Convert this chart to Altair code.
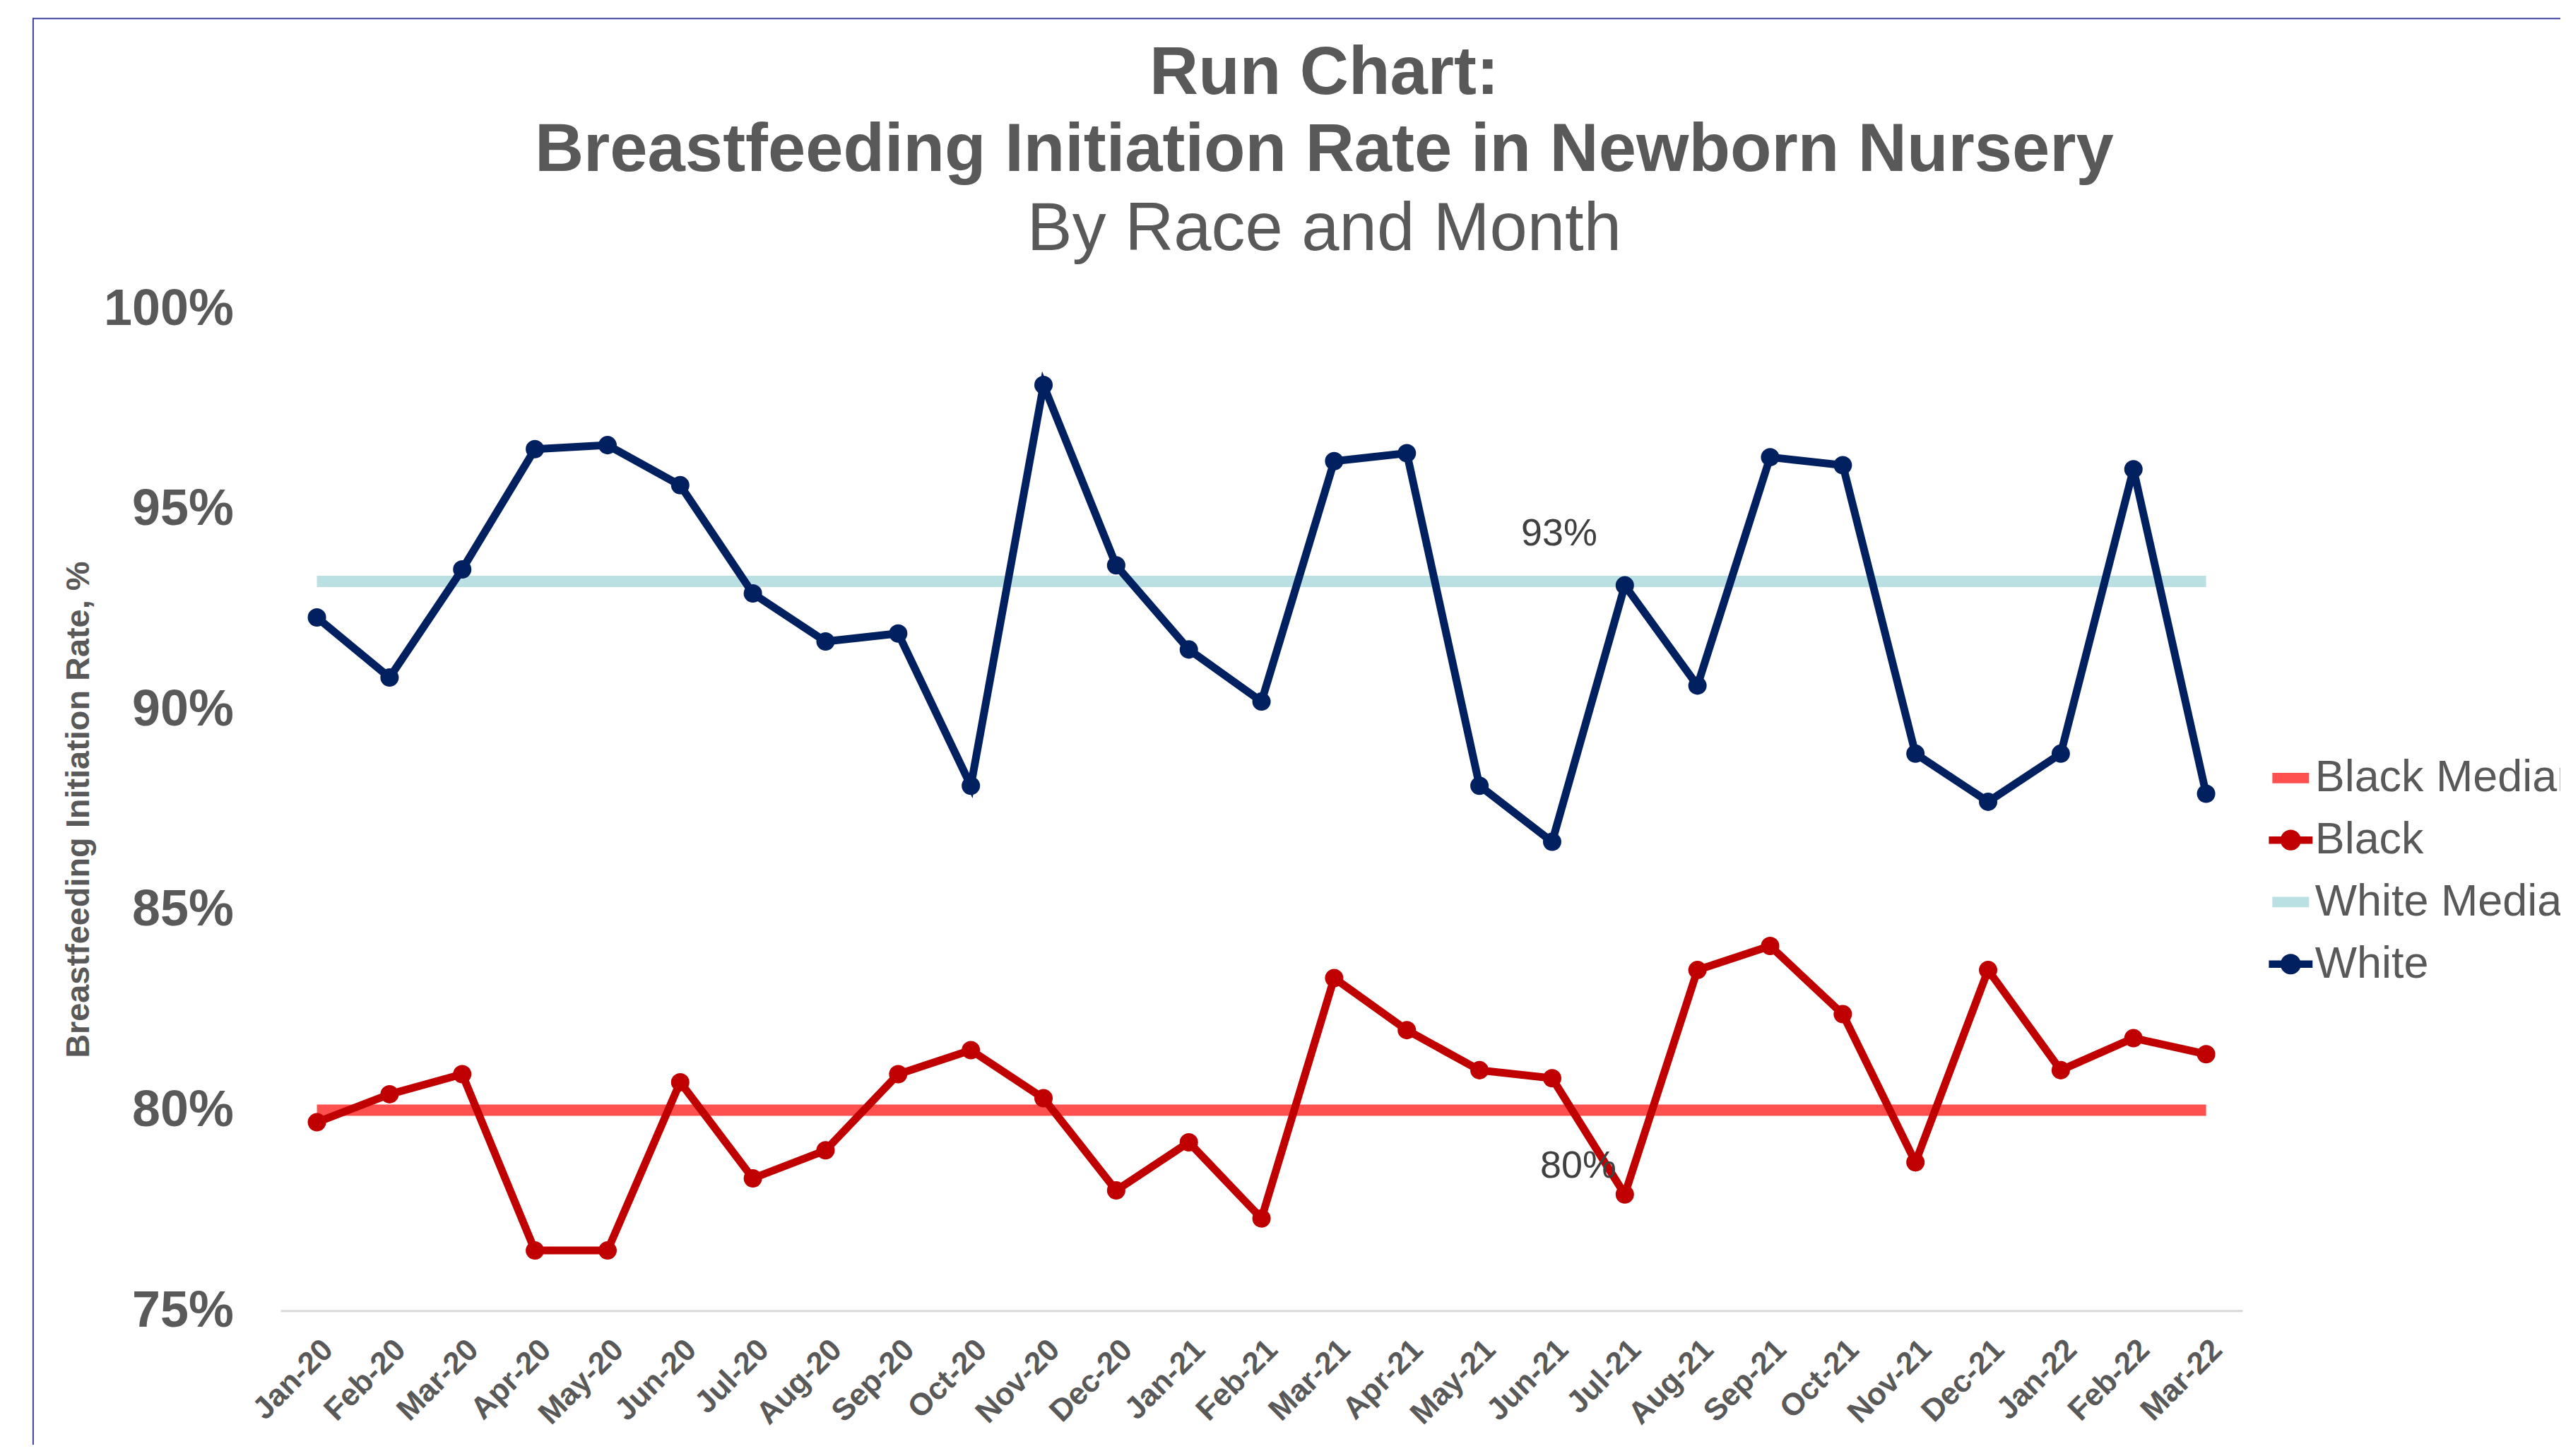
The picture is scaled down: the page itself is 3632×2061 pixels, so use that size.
import altair as alt
import pandas as pd

months = ["Jan-20", "Feb-20", "Mar-20", "Apr-20", "May-20", "Jun-20", "Jul-20", "Aug-20", "Sep-20",
          "Oct-20", "Nov-20", "Dec-20", "Jan-21", "Feb-21", "Mar-21", "Apr-21", "May-21", "Jun-21",
          "Jul-21", "Aug-21", "Sep-21", "Oct-21", "Nov-21", "Dec-21", "Jan-22", "Feb-22", "Mar-22"]

white = [92.3, 90.8, 93.5, 96.5, 96.6, 95.6, 92.9, 91.7, 91.9, 88.1, 98.1, 93.6, 91.5, 90.2,
         96.2, 96.4, 88.1, 86.7, 93.1, 90.6, 96.3, 96.1, 88.9, 87.7, 88.9, 96.0, 87.9]
black = [79.7, 80.4, 80.9, 76.5, 76.5, 80.7, 78.3, 79.0, 80.9, 81.5, 80.3, 78.0, 79.2, 77.3,
         83.3, 82.0, 81.0, 80.8, 77.9, 83.5, 84.1, 82.4, 78.7, 83.5, 81.0, 81.8, 81.4]
white_median = [93.2] * 27
black_median = [80.0] * 27

series_order = ["Black Median", "Black", "White Median", "White"]
series_colors = ["#FF5050", "#C00000", "#BAE0E3", "#002060"]

label_months = ["Jun-21", "Jun-21"]
label_values = [93.2, 80.0]
label_texts = ["93%", "80%"]

rows = []
for name, vals in [("Black Median", black_median), ("Black", black),
                   ("White Median", white_median), ("White", white)]:
    for m, v in zip(months, vals):
        rows.append({"month": m, "series": name, "value": v / 100})
df = pd.DataFrame(rows)

TXT = "#595959"
FONT = "Liberation Sans"

x_enc = alt.X("month:O", sort=months,
              scale=alt.Scale(type="point", padding=0.5),
              axis=alt.Axis(title=None, labelAngle=-45, labelAlign="right", labelBaseline="top",
                            labelPadding=33, labelFontSize=44, labelFontWeight="bold",
                            labelColor=TXT, labelFont=FONT, ticks=False,
                            domainColor="#D9D9D9", domainWidth=3, grid=False))
y_enc = alt.Y("value:Q",
              scale=alt.Scale(domain=[0.75, 1.0], nice=False, zero=False),
              axis=alt.Axis(title="Breastfeeding Initiation Rate, %", format=".0%",
                            values=[0.75, 0.80, 0.85, 0.90, 0.95, 1.0],
                            labelFontSize=72, labelFontWeight="bold", labelColor=TXT,
                            labelFont=FONT, labelPadding=67, labelLimit=400, ticks=False,
                            domain=False, grid=False, titleFontSize=47, titleFontWeight="bold",
                            titleColor=TXT, titleFont=FONT, titleAngle=-90,
                            titleX=-286, titleY=710, titleAlign="center",
                            titleBaseline="middle"))

# legend scale (color/shape) and drawing scales (stroke/fill) use different domain orders
# so that the hidden stroke/fill legends are not merged into the visible one
color_scale = alt.Scale(domain=series_order, range=series_colors)
draw_order = [series_order[i] for i in (1, 3, 0, 2)]
draw_colors = [series_colors[i] for i in (1, 3, 0, 2)]
draw_scale = alt.Scale(domain=draw_order, range=draw_colors)

medians = alt.Chart(df).transform_filter(
    alt.FieldOneOfPredicate(field="series", oneOf=["Black Median", "White Median"])
).mark_line(strokeWidth=16).encode(
    x=x_enc, y=y_enc,
    stroke=alt.Stroke("series:N", scale=draw_scale, legend=None),
    detail="series:N",
)

series_lines = alt.Chart(df).transform_filter(
    alt.FieldOneOfPredicate(field="series", oneOf=["Black", "White"])
).mark_line(strokeWidth=11, strokeJoin="miter").encode(
    x=x_enc, y=y_enc,
    stroke=alt.Stroke("series:N", scale=draw_scale, legend=None),
    detail="series:N",
)

series_points = alt.Chart(df).transform_filter(
    alt.FieldOneOfPredicate(field="series", oneOf=["Black", "White"])
).mark_circle(size=680, opacity=1).encode(
    x=x_enc, y=y_enc,
    fill=alt.Fill("series:N", scale=draw_scale, legend=None),
)

median_path = "M-0.84,-0.24H0.84V0.24H-0.84Z"
series_path = ("M-1,-0.17H1V0.17H-1Z "
               "M0.47,0A0.47,0.47 0 1,1 -0.47,0A0.47,0.47 0 1,1 0.47,0Z")
shape_scale = alt.Scale(domain=series_order,
                        range=[median_path, series_path, median_path, series_path])

legend_common = dict(title=None, orient="none", legendX=2820, legendY=634,
                     symbolSize=3844, symbolOpacity=1, symbolStrokeWidth=0,
                     labelFontSize=63, labelColor=TXT, labelFont=FONT, labelOffset=3,
                     rowPadding=24, padding=0, labelLimit=1000)

legend_layer = alt.Chart(df).mark_point(filled=True, opacity=0).encode(
    x=x_enc, y=y_enc,
    color=alt.Color("series:N", scale=color_scale, legend=alt.Legend(**legend_common)),
    shape=alt.Shape("series:N", scale=shape_scale, legend=alt.Legend(**legend_common)),
)

lab_df = pd.DataFrame({"month": label_months, "value": [v / 100 for v in label_values],
                       "text": label_texts})
label_93 = alt.Chart(lab_df.iloc[[0]]).mark_text(
    fontSize=54, color="#404040", font=FONT, dx=10, dy=-67, baseline="middle", align="center"
).encode(x=x_enc, y=y_enc, text="text:N")
label_80 = alt.Chart(lab_df.iloc[[1]]).mark_text(
    fontSize=54, color="#404040", font=FONT, dx=37, dy=80, baseline="middle", align="center"
).encode(x=x_enc, y=y_enc, text="text:N")

frame_df = pd.DataFrame({"k": [0]})
frame_top = alt.Chart(frame_df).mark_rule(color="#3F3F9F", strokeWidth=2).encode(
    x=alt.value(-351), x2=alt.value(3240), y=alt.value(-412))
frame_left = alt.Chart(frame_df).mark_rule(color="#3F3F9F", strokeWidth=2).encode(
    x=alt.value(-351), y=alt.value(-413), y2=alt.value(1700))

chart = alt.layer(
    frame_top, frame_left, medians, series_lines, series_points, legend_layer, label_93, label_80
).properties(
    width=2783, height=1421,
    autosize=alt.AutoSizeParams(type="none"),
    padding={"left": 390, "top": 428, "right": 451, "bottom": 188},
    title=alt.TitleParams(
        text=["Run Chart:", "Breastfeeding Initiation Rate in Newborn Nursery"],
        subtitle="By Race and Month",
        fontSize=96, fontWeight="bold", color=TXT, font=FONT, lineHeight=109,
        subtitleFontSize=96, subtitleFontWeight="normal", subtitleColor=TXT,
        subtitleFont=FONT, subtitleLineHeight=110, subtitlePadding=17,
        anchor="middle", frame="group", dx=89, offset=-351,
    ),
).configure(background="white", view=alt.ViewConfig(strokeWidth=0))

chart.save("out.html", embed_options={"renderer": "svg", "actions": False})
